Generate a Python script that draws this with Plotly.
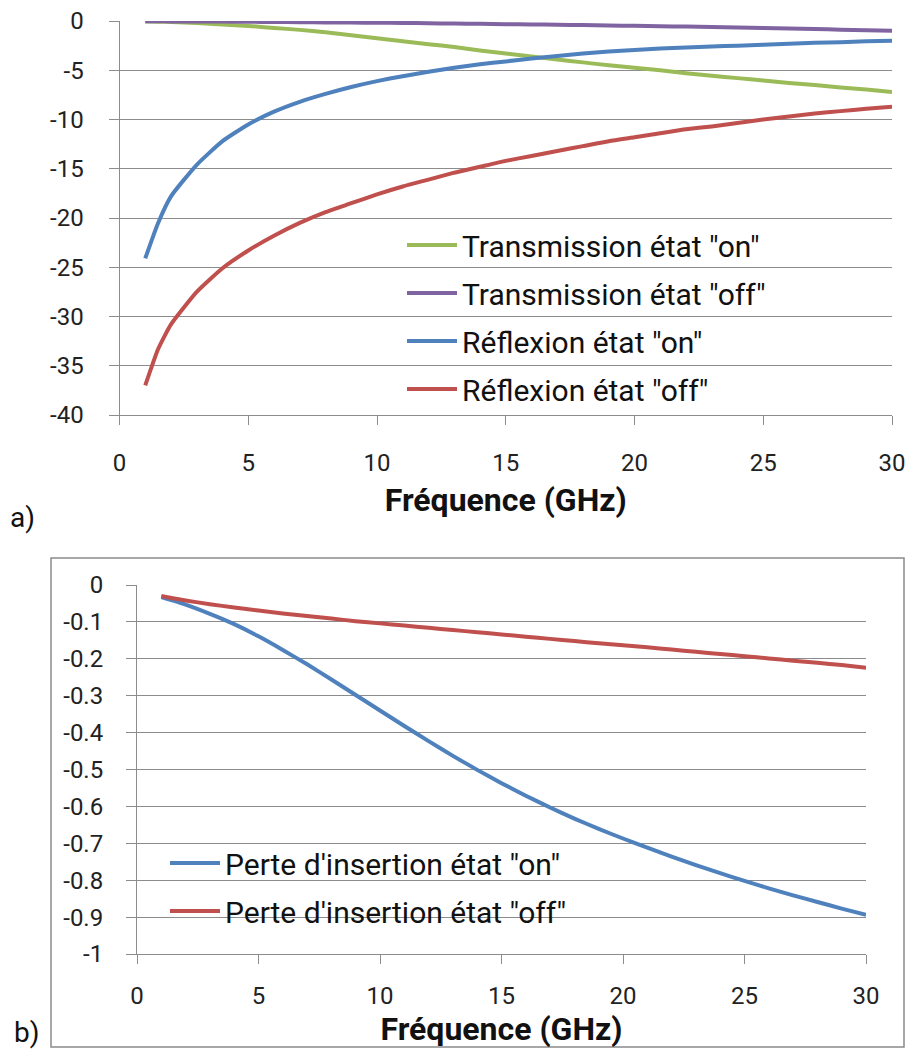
import plotly.graph_objects as go

# ---------- data (top chart, a) ----------
freq_a = [1, 1.5, 2, 3, 4, 5, 6, 7, 8, 9, 10, 11, 12, 13, 14, 15, 16, 17, 18, 19, 20,
          21, 22, 23, 24, 25, 26, 27, 28, 29, 30]
trans_on = [-0.05, -0.07, -0.1, -0.2, -0.35, -0.5, -0.7, -0.9, -1.15, -1.45, -1.75, -2.05,
            -2.35, -2.65, -3.0, -3.3, -3.6, -3.9, -4.2, -4.5, -4.75, -5.0, -5.3, -5.55,
            -5.8, -6.05, -6.3, -6.5, -6.75, -6.95, -7.2]
trans_off = [-0.03, -0.03, -0.04, -0.05, -0.06, -0.08, -0.1, -0.12, -0.14, -0.16, -0.18,
             -0.2, -0.23, -0.26, -0.29, -0.32, -0.35, -0.38, -0.41, -0.45, -0.49, -0.53,
             -0.57, -0.62, -0.67, -0.72, -0.77, -0.82, -0.88, -0.94, -1.0]
refl_on = [-24.1, -20.5, -17.8, -14.6, -12.2, -10.5, -9.2, -8.2, -7.4, -6.7, -6.1, -5.6,
           -5.15, -4.75, -4.4, -4.1, -3.8, -3.55, -3.3, -3.1, -2.95, -2.8, -2.7, -2.6,
           -2.5, -2.4, -2.3, -2.2, -2.15, -2.05, -2.0]
refl_off = [-37.0, -33.3, -30.8, -27.5, -25.1, -23.3, -21.8, -20.5, -19.4, -18.5, -17.6,
            -16.8, -16.1, -15.4, -14.8, -14.2, -13.7, -13.2, -12.7, -12.2, -11.8, -11.4,
            -11.0, -10.7, -10.35, -10.0, -9.7, -9.4, -9.15, -8.9, -8.7]

# ---------- data (bottom chart, b) ----------
freq_b = [1, 2, 3, 4, 5, 6, 7, 8, 9, 10, 11, 12, 13, 14, 15, 16, 17, 18, 19, 20,
          21, 22, 23, 24, 25, 26, 27, 28, 29, 30]
loss_on = [-0.033, -0.053, -0.078, -0.106, -0.139, -0.176, -0.215, -0.256, -0.298, -0.340,
           -0.382, -0.423, -0.463, -0.501, -0.537, -0.571, -0.603, -0.633, -0.661, -0.687,
           -0.712, -0.736, -0.759, -0.781, -0.802, -0.822, -0.841, -0.859, -0.877, -0.894]
loss_off = [-0.03, -0.042, -0.052, -0.061, -0.069, -0.077, -0.084, -0.091, -0.098, -0.104,
            -0.11, -0.116, -0.122, -0.128, -0.134, -0.14, -0.146, -0.152, -0.158, -0.163,
            -0.169, -0.175, -0.181, -0.187, -0.193, -0.199, -0.205, -0.211, -0.217, -0.224]

ticks_x = [0, 5, 10, 15, 20, 25, 30]
ticks_ya = [0, -5, -10, -15, -20, -25, -30, -35, -40]
ticks_yb = [0, -0.1, -0.2, -0.3, -0.4, -0.5, -0.6, -0.7, -0.8, -0.9, -1]


def labels(vals):
    return ["%g" % v if v != 0 else "0" for v in vals]


GREEN, PURPLE, BLUE, RED = "#9BBB59", "#8064A2", "#4F81BD", "#C0504D"
GRID = "#8C8C8C"
FONT = "Roboto"

W, H = 909, 1052


def px(x):
    return x / W


def py(y):
    return 1 - y / H


fig = go.Figure()

series_a = [("Transmission état \"on\"", trans_on, GREEN),
            ("Transmission état \"off\"", trans_off, PURPLE),
            ("Réflexion état \"on\"", refl_on, BLUE),
            ("Réflexion état \"off\"", refl_off, RED)]
for i, (name, ys, col) in enumerate(series_a):
    fig.add_trace(go.Scatter(x=freq_a, y=ys, mode="lines", name=name,
                             line=dict(color=col, width=4, shape="spline", smoothing=0.5),
                             xaxis="x", yaxis="y", legend="legend",
                             legendgroup="a%d" % i))

series_b = [("Perte d'insertion état \"on\"", loss_on, BLUE),
            ("Perte d'insertion état \"off\"", loss_off, RED)]
for i, (name, ys, col) in enumerate(series_b):
    fig.add_trace(go.Scatter(x=freq_b, y=ys, mode="lines", name=name,
                             line=dict(color=col, width=4, shape="spline", smoothing=0.5),
                             xaxis="x2", yaxis="y2", legend="legend2",
                             legendgroup="b%d" % i))

tickfont = dict(family=FONT, size=24, color="#222222")
titlefont = dict(family=FONT, size=32, color="#111111", weight="bold")

common_x = dict(range=[0, 30], tickvals=ticks_x, ticktext=labels(ticks_x),
                showgrid=False, zeroline=False, automargin=False, ticklabeloverflow="allow",
                showline=True, linecolor=GRID, linewidth=1, ticks="outside",
                ticklen=9, tickcolor=GRID, tickfont=tickfont, fixedrange=True)
common_y = dict(showgrid=True, gridcolor=GRID, gridwidth=1, zeroline=False, automargin=False,
                ticklabeloverflow="allow",
                showline=True, linecolor=GRID, linewidth=1, ticks="outside",
                ticklen=10, tickcolor=GRID, tickfont=tickfont, fixedrange=True)

fig.update_layout(
    width=W, height=H,
    margin=dict(l=0, r=0, t=0, b=0, autoexpand=False),
    paper_bgcolor="white", plot_bgcolor="white",
    font=dict(family=FONT, color="#222222"),
    xaxis=dict(domain=[px(119.5), px(892)], anchor="y",
               ticklabelstandoff=17,
               title=dict(text="Fréquence (GHz)", font=titlefont, standoff=12),
               **common_x),
    yaxis=dict(domain=[py(415), py(21)], anchor="x", range=[-40, 0],
               tickvals=ticks_ya, ticktext=labels(ticks_ya), ticklabelstandoff=20,
               **common_y),
    xaxis2=dict(domain=[px(137), px(866)], anchor="y2",
                ticklabelstandoff=11,
                title=dict(text="Fréquence (GHz)", font=titlefont, standoff=8),
                **common_x),
    yaxis2=dict(domain=[py(954), py(585)], anchor="x2", range=[-1, 0],
                tickvals=ticks_yb, ticktext=labels(ticks_yb), ticklabelstandoff=18,
                **common_y),
    legend=dict(x=px(402), y=py(219), xanchor="left", yanchor="top",
                bgcolor="rgba(0,0,0,0)", font=dict(family=FONT, size=30, color="#111111"),
                itemwidth=50, tracegroupgap=6, traceorder="grouped"),
    legend2=dict(x=px(165), y=py(837), xanchor="left", yanchor="top",
                 bgcolor="rgba(0,0,0,0)", font=dict(family=FONT, size=30, color="#111111"),
                 itemwidth=50, tracegroupgap=6, traceorder="grouped"),
    shapes=[dict(type="rect", xref="paper", yref="paper",
                 x0=px(51), x1=px(904), y0=py(1047), y1=py(558),
                 line=dict(color="#8A8A8A", width=1.5), fillcolor="rgba(0,0,0,0)",
                 layer="below")],
    annotations=[
        dict(text="a)", xref="paper", yref="paper", x=px(8), y=py(517),
             xanchor="left", yanchor="middle", showarrow=False,
             font=dict(family=FONT, size=28, color="#111111")),
        dict(text="b)", xref="paper", yref="paper", x=px(12), y=py(1032),
             xanchor="left", yanchor="middle", showarrow=False,
             font=dict(family=FONT, size=28, color="#111111")),
    ],
)

# remove the page's default 8px body margin so the figure fills the window exactly
fig.write_html("out.html",
               config={"displayModeBar": False},
               post_script="document.body.style.margin='0';document.body.style.overflow='hidden';")
